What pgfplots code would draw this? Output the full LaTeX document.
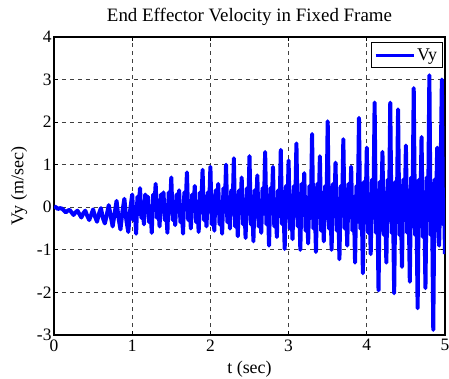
\documentclass[border=0pt]{standalone}
\usepackage{fontspec}
\setmainfont{Liberation Serif}
\usepackage{pgfplots}
\pgfplotsset{compat=1.18}
\usepackage{pgfplotstable}
\usetikzlibrary{calc}
\pgfplotstableread{
t v
0.000 0.02
0.025 0.00
0.050 -0.04
0.075 -0.02
0.100 -0.03
0.125 -0.07
0.150 -0.12
0.175 -0.08
0.200 -0.06
0.225 -0.12
0.250 -0.18
0.275 -0.12
0.300 -0.08
0.325 -0.16
0.350 -0.24
0.375 -0.14
0.400 -0.08
0.425 -0.20
0.450 -0.30
0.475 -0.18
0.500 -0.05
0.525 -0.22
0.550 -0.34
0.575 -0.15
0.600 -0.02
0.625 -0.25
0.650 -0.38
0.675 -0.18
0.700 0.05
0.725 -0.20
0.750 -0.45
0.775 -0.15
0.800 0.15
0.825 -0.25
0.850 -0.52
0.875 -0.10
0.900 0.20
0.925 -0.30
0.950 -0.58
0.975 -0.05
1.000 0.30
1.017 -0.30
1.033 0.00
1.050 -0.62
1.067 0.25
1.083 -0.05
1.100 0.45
1.117 -0.25
1.133 0.05
1.150 -0.40
1.167 0.30
1.183 -0.10
1.200 0.25
1.217 -0.35
1.233 0.00
1.250 -0.60
1.267 0.30
1.283 0.00
1.300 0.55
1.317 -0.25
1.333 0.10
1.350 -0.45
1.367 0.30
1.383 -0.05
1.400 0.35
1.417 -0.30
1.433 0.05
1.450 -0.60
1.467 0.35
1.483 0.00
1.500 0.70
1.517 -0.30
1.533 0.10
1.550 -0.42
1.567 0.30
1.583 -0.10
1.600 0.40
1.617 -0.35
1.633 0.05
1.650 -0.62
1.667 0.35
1.683 0.00
1.700 0.82
1.717 -0.30
1.733 0.10
1.750 -0.50
1.767 0.30
1.783 -0.05
1.800 0.50
1.817 -0.35
1.833 0.05
1.850 -0.58
1.867 0.35
1.883 0.00
1.900 0.88
1.917 -0.30
1.933 0.10
1.950 -0.45
1.967 0.35
1.983 -0.05
2.000 0.95
2.017 -0.40
2.033 0.15
2.050 -0.55
2.067 0.40
2.083 -0.10
2.100 0.55
2.117 -0.40
2.133 0.10
2.150 -0.62
2.167 0.45
2.183 -0.10
2.200 1.00
2.217 -0.35
2.233 0.20
2.250 -0.50
2.267 0.40
2.283 -0.15
2.300 1.15
2.317 -0.45
2.333 0.15
2.350 -0.68
2.367 0.40
2.383 -0.10
2.400 0.70
2.417 -0.40
2.433 0.15
2.450 -0.72
2.467 0.45
2.483 -0.15
2.500 1.20
2.517 -0.40
2.533 0.20
2.550 -0.80
2.567 0.40
2.583 -0.15
2.600 0.75
2.617 -0.45
2.633 0.10
2.650 -0.60
2.667 0.45
2.683 -0.15
2.700 1.30
2.717 -0.40
2.733 0.20
2.750 -0.90
2.767 0.45
2.783 -0.10
2.800 0.95
2.817 -0.45
2.833 0.15
2.850 -0.70
2.867 0.40
2.883 -0.20
2.900 1.35
2.917 -0.40
2.933 0.15
2.950 -0.98
2.967 0.50
2.983 -0.15
3.000 1.10
3.017 -0.50
3.033 0.20
3.050 -0.75
3.067 0.50
3.083 -0.20
3.100 1.50
3.117 -0.45
3.133 0.25
3.150 -1.00
3.167 0.55
3.183 -0.15
3.200 0.80
3.217 -0.55
3.233 0.20
3.250 -0.85
3.267 0.50
3.283 -0.25
3.300 1.72
3.317 -0.50
3.333 0.20
3.350 -1.05
3.367 0.55
3.383 -0.20
3.400 1.20
3.417 -0.55
3.433 0.15
3.450 -0.80
3.467 0.50
3.483 -0.25
3.500 2.02
3.517 -0.50
3.533 0.25
3.550 -1.00
3.567 0.55
3.583 -0.20
3.600 1.05
3.617 -0.55
3.633 0.20
3.650 -1.22
3.667 0.50
3.683 -0.20
3.700 1.60
3.717 -0.50
3.733 0.25
3.750 -0.90
3.767 0.55
3.783 -0.20
3.800 0.95
3.817 -0.55
3.833 0.20
3.850 -1.30
3.867 0.50
3.883 -0.25
3.900 2.10
3.917 -0.50
3.933 0.25
3.950 -1.55
3.967 0.60
3.983 -0.25
4.000 1.40
4.017 -0.60
4.033 0.30
4.050 -1.10
4.067 0.65
4.083 -0.25
4.100 2.46
4.117 -0.60
4.133 0.30
4.150 -1.95
4.167 0.60
4.183 -0.30
4.200 1.30
4.217 -0.65
4.233 0.25
4.250 -1.30
4.267 0.65
4.283 -0.30
4.300 2.46
4.317 -0.60
4.333 0.30
4.350 -2.02
4.367 0.60
4.383 -0.25
4.400 2.30
4.417 -0.65
4.433 0.30
4.450 -1.40
4.467 0.65
4.483 -0.30
4.500 1.45
4.517 -0.60
4.533 0.30
4.550 -1.75
4.567 0.70
4.583 -0.30
4.600 2.80
4.617 -0.65
4.633 0.30
4.650 -2.37
4.667 0.65
4.683 -0.30
4.700 1.65
4.717 -0.70
4.733 0.30
4.750 -1.90
4.767 0.70
4.783 -0.30
4.800 3.10
4.817 -0.65
4.833 0.30
4.850 -2.88
4.867 0.65
4.883 -0.30
4.900 1.40
4.917 -0.60
4.925 -0.90
4.942 0.60
4.960 3.00
4.975 -0.40
4.988 0.20
5.000 -1.10
}\datatable
\begin{document}
\begin{tikzpicture}
\begin{axis}[
  scale only axis,
  width=391bp, height=298bp,
  xmin=0, xmax=5, ymin=-3, ymax=4,
  xtick={0,1,2,3,4,5}, ytick={-3,-2,...,4},
  tick align=inside,
  major tick length=4bp,
  grid=major,
  major grid style={black!75, dash pattern=on 4bp off 4bp, line width=0.8bp},
  axis line style={black, line width=1.2bp},
  tick style={black, line width=0.8bp},
  /pgf/number format/assume math mode=true,
  ticklabel style={font=\fontsize{17.5}{19}\selectfont},
  xticklabel style={yshift=-1bp},
  yticklabel style={xshift=1bp},
  title={End Effector Velocity in Fixed Frame},
  title style={font=\fontsize{19}{21}\selectfont, at={(0.5,1)}, anchor=base, yshift=10bp},
  xlabel={t (sec)}, ylabel={Vy (m/sec)},
  label style={font=\fontsize{18}{20}\selectfont},
  xlabel style={at={(0.5,0)}, anchor=base, yshift=-38bp},
  ylabel style={at={(0,0.5)}, anchor=center, yshift=35bp},
  legend style={at={(0.994,0.983)}, anchor=north east, draw=black, line width=1bp, font=\fontsize{18}{20}\selectfont, inner xsep=3bp, inner ysep=4bp},
  legend image code/.code={\draw[#1, line width=3.2bp] (0bp,0bp) -- (38bp,0bp);},
  legend cell align=left,
]
\addplot[blue, line width=4bp, line join=round] table[x=t, y=v] {\datatable};
\addlegendentry{Vy}
\end{axis}
\pgfresetboundingbox
\path ($(current axis.south west)+(-54bp,-44bp)$) rectangle ($(current axis.north east)+(4bp,37bp)$);
\end{tikzpicture}
\end{document}
